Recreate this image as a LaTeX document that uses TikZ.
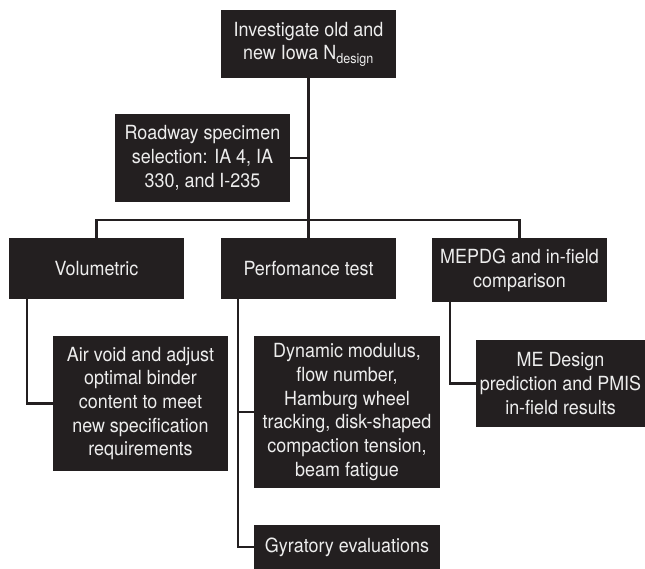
\documentclass[tikz,border=0pt]{standalone}
\usepackage{fontspec}
\setmainfont{TeX Gyre Heros}[FakeStretch=0.92]
\definecolor{boxfill}{HTML}{231F20}
\definecolor{boxtext}{HTML}{EDEDED}
\begin{document}
\begin{tikzpicture}[x=1pt,y=-1pt,
  stage/.style={fill=boxfill,text=boxtext,align=center,inner sep=0pt,
    minimum width=175pt,font=\fontsize{19.5}{23.7}\selectfont},
  link/.style={draw=boxfill,line width=2.2pt}]
\useasboundingbox (0,0) rectangle (645,569);

% top of the tree
\node[stage,minimum height=68pt] (invest) at (308.5,44) {Investigate old and\\new Iowa N\textsubscript{design}};
\node[stage,minimum height=88pt] (road) at (202.5,158) {Roadway specimen\\selection: IA 4, IA\\330, and I-235};
\coordinate (bus) at (308.5,220);

% three branches
\node[stage,minimum height=61pt] (vol) at (96.5,268.5) {Volumetric};
\node[stage,minimum height=61pt] (perf) at (308.5,268.5) {Perfomance test};
\node[stage,minimum height=64pt] (mepdg) at (519.5,270) {MEPDG and in-field\\comparison};

% leaves
\node[stage,minimum height=135pt] (air) at (140.5,403.5) {Air void and adjust\\optimal binder\\content to meet\\new specification\\requirements};
\node[stage,minimum width=186pt,minimum height=152pt] (dyn) at (347,412) {Dynamic modulus,\\flow number,\\Hamburg wheel\\tracking, disk-shaped\\compaction tension,\\beam fatigue};
\node[stage,minimum width=186pt,minimum height=44pt] (gyr) at (347,547) {Gyratory evaluations};
\node[stage,minimum width=169pt,minimum height=87pt] (me) at (560.5,383.5) {ME Design\\prediction and PMIS\\in-field results};

% connectors
\draw[link] (invest) -- (bus);
\draw[link] (road.east) -- (road.east -| bus);
\draw[link] (vol.north) |- (bus) -| (mepdg.north);
\draw[link] (bus) -- (perf);

\coordinate (volleg) at ([xshift=18pt]vol.south west);
\coordinate (perfleg) at ([xshift=17pt]perf.south west);
\coordinate (mepleg) at ([xshift=18pt]mepdg.south west);
\draw[link] (volleg) |- (air.west);
\draw[link] (perfleg) |- (gyr.west);
\draw[link] (perfleg |- dyn.west) -- (dyn.west);
\draw[link] (mepleg) |- (me.west);
\end{tikzpicture}
\end{document}
